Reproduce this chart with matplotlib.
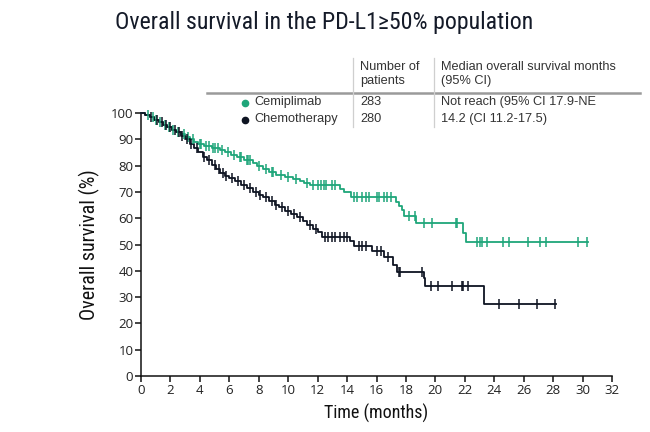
import numpy as np
import matplotlib
matplotlib.use("Agg")
import matplotlib.pyplot as plt
from matplotlib import font_manager as fm

# ---------------- data ----------------
cemi_t = [0, 0.3, 0.6, 0.9, 1.2, 1.5, 1.8, 2.1, 2.4, 2.7, 3.0, 3.3, 3.6, 3.9, 4.3, 4.8,
          5.4, 5.7, 6.1, 6.5, 7.0, 7.6, 7.9, 8.3, 8.7, 9.2, 9.8, 10.3, 10.8, 11.1, 11.5,
          13.5, 13.8, 14.3, 17.3, 17.5, 17.7, 17.9, 18.7, 21.9, 22.1, 30.4]
cemi_s = [100, 99.3, 98.6, 97.5, 96.4, 95.4, 94.6, 93.6, 92.8, 92.0, 91.0, 90.0, 89.0, 88.3,
          87.5, 86.8, 86.0, 85.0, 84.0, 83.2, 82.2, 81.0, 79.8, 78.6, 77.6, 76.6, 75.8, 75.0,
          74.0, 73.2, 72.6, 71.2, 70.0, 68.2, 66.0, 64.5, 63.0, 60.8, 58.0, 54.2, 50.8, 50.8]
cemi_cens = [0.5, 0.8, 1.0, 1.3, 1.6, 1.9, 2.2, 2.5, 2.9, 3.2, 3.5, 4.0, 4.1, 4.4, 4.6, 4.9,
             5.0, 5.2, 5.5, 5.9, 6.3, 6.7, 6.8, 7.2, 7.3, 7.4, 8.0, 8.5, 8.9, 9.0, 9.5, 10.0,
             10.5, 11.3, 11.7, 12.0, 12.2, 12.4, 12.6, 13.0, 13.2, 14.5, 14.7, 15.0, 15.3,
             15.5, 16.0, 16.2, 16.5, 16.7, 17.0, 18.2, 18.6, 19.2, 19.8, 21.4, 21.5, 22.8,
             23.0, 23.2, 23.5, 24.6, 25.0, 26.3, 27.1, 27.5, 29.7, 30.3]

chemo_t = [0, 0.3, 0.6, 0.9, 1.2, 1.5, 1.8, 2.1, 2.4, 2.7, 3.0, 3.3, 3.6, 3.9, 4.2, 4.5, 4.8,
           5.1, 5.4, 5.7, 6.0, 6.4, 6.8, 7.2, 7.6, 8.0, 8.3, 8.7, 9.1, 9.4, 9.8, 10.2, 10.6,
           11.0, 11.3, 11.7, 12.0, 12.3, 14.2, 14.5, 15.7, 16.5, 17.1, 17.4, 19.2, 19.3,
           23.3, 28.2]
chemo_s = [100, 99.3, 98.5, 97.5, 96.5, 95.5, 94.5, 93.5, 92.6, 91.4, 90.0, 88.4, 86.8, 85.0,
           83.4, 82.0, 80.4, 78.6, 77.0, 76.0, 75.1, 74.0, 72.6, 71.3, 70.0, 69.0, 68.0,
           66.5, 65.2, 64.2, 62.8, 61.6, 60.4, 58.8, 57.4, 56.0, 54.6, 53.0, 51.2, 49.4,
           47.5, 45.4, 42.2, 39.7, 37.2, 34.2, 27.4, 27.4]
chemo_cens = [0.7, 1.1, 1.4, 1.7, 2.0, 2.3, 2.6, 2.8, 3.1, 3.4, 3.8, 4.3, 4.6, 5.0, 5.3, 5.6,
              5.8, 6.2, 6.6, 7.0, 7.4, 7.8, 8.1, 8.5, 8.9, 9.2, 9.6, 10.0, 10.4, 10.8, 11.5,
              11.9, 12.5, 12.7, 13.0, 13.2, 13.5, 13.8, 14.0, 14.8, 15.0, 15.3, 16.0, 16.3,
              16.8, 17.5, 17.6, 19.1, 19.7, 20.2, 21.1, 21.8, 21.9, 22.2, 24.3, 25.7, 26.9,
              28.1]

arms = ["Cemiplimab", "Chemotherapy"]
n_patients = ["283", "280"]
medians = ["Not reach (95% CI 17.9-NE", "14.2 (CI 11.2-17.5)"]
header_n = "Number of\npatients"
header_m = "Median overall survival months\n(95% CI)"
title = "Overall survival in the PD-L1\u226550% population"
xticks = list(range(0, 33, 2))
yticks = list(range(0, 101, 10))

GREEN = "#1fa67a"
BLACK = "#0e1422"

# ---------------- fonts ----------------
avail = {f.name for f in fm.fontManager.ttflist}
def pick(*names):
    for n in names:
        if n in avail:
            return n
    return "DejaVu Sans"
COND = pick("Liberation Sans Narrow", "Roboto Condensed", "Open Sans Condensed", "DejaVu Sans")
TICKF = pick("Open Sans", "Noto Sans", "DejaVu Sans")
TABF = pick("Liberation Sans", "DejaVu Sans")

W, H = 650, 432
fig = plt.figure(figsize=(W / 100, H / 100), dpi=100)

def fx(px):
    return px / W
def fy(py):
    return 1 - py / H

ax = fig.add_axes([fx(141), fy(376), fx(612) - fx(141), fy(113) - fy(376)])
ax.set_xlim(0, 32)
ax.set_ylim(0, 100)

for t, s, c, col in [(cemi_t, cemi_s, cemi_cens, GREEN), (chemo_t, chemo_s, chemo_cens, BLACK)]:
    t = np.asarray(t, float)
    s = np.asarray(s, float)
    ax.step(t, s, where="post", color=col, lw=1.3, clip_on=False, zorder=3)
    c = np.asarray(c, float)
    idx = np.searchsorted(t, c, side="right") - 1
    ax.plot(c, s[idx], ls="none", marker="|", ms=7, mew=1.1, color=col, clip_on=False, zorder=4)

for side in ["top", "right"]:
    ax.spines[side].set_visible(False)
for side in ["left", "bottom"]:
    ax.spines[side].set_linewidth(1.1)
    ax.spines[side].set_color("#111111")
ax.set_xticks(xticks)
ax.set_yticks(yticks)
ax.tick_params(direction="out", length=4, width=1.1, color="#111111", labelsize=9.5,
               labelcolor="#222222", pad=1.5)
for lab in ax.get_xticklabels() + ax.get_yticklabels():
    lab.set_fontfamily(TICKF)

ax.set_xlabel("Time (months)", fontfamily=COND, fontsize=13, color="#111111", labelpad=5)
ax.set_ylabel("Overall survival (%)", fontfamily=COND, fontsize=14.5, color="#111111",
              labelpad=8)

fig.text(fx(115), fy(23), title, fontfamily=COND, fontsize=17.2, color="#141a28",
         ha="left", va="center")

# ---------------- table ----------------
tc = "#333333"
fig.text(fx(360), fy(74), header_n, fontfamily=TABF, fontsize=9.2, color=tc,
         ha="left", va="center", linespacing=1.15)
fig.text(fx(441), fy(74), header_m, fontfamily=TABF, fontsize=9.2, color=tc,
         ha="left", va="center", linespacing=1.15)
rows_y = [102, 119]
for y, name, n, m, col in zip(rows_y, arms, n_patients, medians, [GREEN, BLACK]):
    fig.text(fx(254), fy(y), name, fontfamily=TABF, fontsize=9.2, color=tc, ha="left", va="center")
    fig.text(fx(360), fy(y), n, fontfamily=TABF, fontsize=9.2, color=tc, ha="left", va="center")
    fig.text(fx(441), fy(y), m, fontfamily=TABF, fontsize=9.2, color=tc, ha="left", va="center")
    fig.lines.append(plt.Line2D([fx(245)], [fy(y + 1)], marker="o", ms=4.5, color=col,
                                transform=fig.transFigure, ls="none"))

fig.lines.append(plt.Line2D([fx(207), fx(640)], [fy(92.5), fy(92.5)], color="#9a9a9a",
                            lw=1.8, transform=fig.transFigure))
for xv in [353, 434]:
    fig.lines.append(plt.Line2D([fx(xv), fx(xv)], [fy(58), fy(127)], color="#cfcfcf",
                                lw=0.9, transform=fig.transFigure))

fig.savefig("out.png", dpi=100)
